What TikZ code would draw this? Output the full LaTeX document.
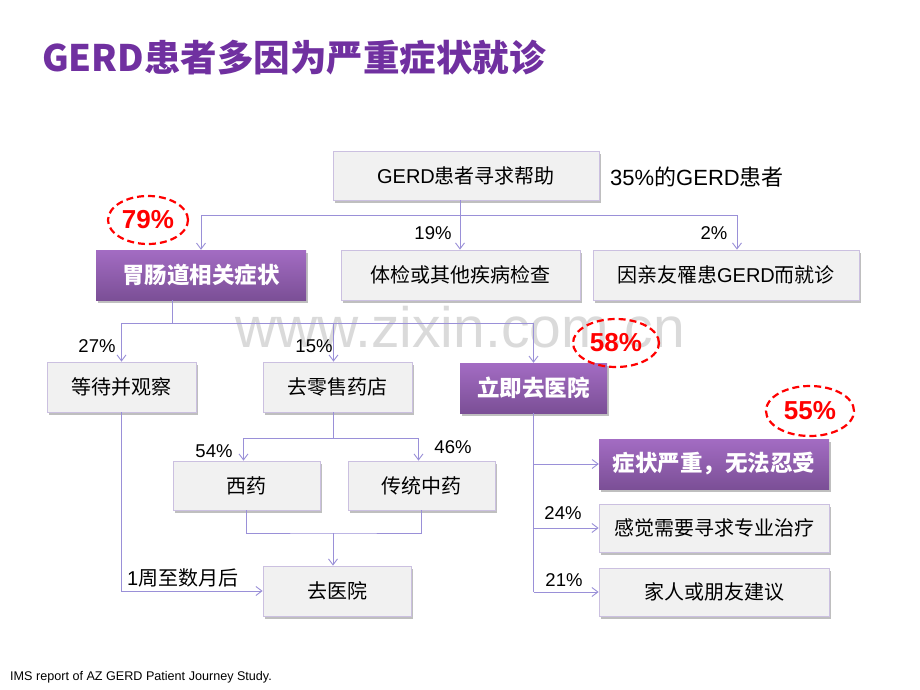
\documentclass[tikz,border=0pt]{standalone}
\usepackage{fontspec}
\setmainfont{Liberation Sans}
\newfontfamily\cjk{Noto Sans CJK SC}
\usetikzlibrary{arrows.meta,shapes.geometric,shadows}
\definecolor{lineC}{HTML}{9A90D8}
\definecolor{boxline}{HTML}{CBC0E0}
\definecolor{boxfill}{HTML}{F1F1F1}
\definecolor{pTop}{HTML}{A36CC3}
\definecolor{pBot}{HTML}{7B4F96}
\definecolor{titleC}{HTML}{7030A0}
\definecolor{wmC}{HTML}{DADADA}
\newcommand{\zh}[1]{{\cjk #1}}
\begin{document}
\begin{tikzpicture}[x=1pt,y=-1pt,
  gbox/.style={draw=boxline, fill=boxfill, line width=0.8pt, inner sep=0pt,
    font=\fontsize{20}{24}\selectfont,
    drop shadow={shadow xshift=1.5pt, shadow yshift=-2.5pt, fill=black, opacity=0.25}},
  pbox/.style={draw=none, top color=pTop, bottom color=pBot, inner sep=0pt, text=white,
    font=\fontsize{22.5}{26}\selectfont\bfseries,
    drop shadow={shadow xshift=1.5pt, shadow yshift=-2.5pt, fill=black, opacity=0.25}},
  conn/.style={draw=lineC, line width=0.9pt},
  arr/.style={conn, -{Straight Barb[length=6pt,width=9pt]}},
  pct/.style={font=\fontsize{18.5}{20}\selectfont, inner sep=0pt},
  bubble/.style={ellipse, draw=red, dashed, dash pattern=on 7pt off 4pt, line width=2.2pt,
    text=red, font=\fontsize{26}{28}\selectfont\bfseries, inner sep=0pt}
]
\useasboundingbox (0,0) rectangle (920,690);
\fill[white] (0,0) rectangle (920,690);
% watermark
\node[text=wmC, font=\fontsize{57}{60}\selectfont, inner sep=0pt] (wm) at (460,327) {www.zixin.com.cn};
% title
\node[anchor=west, text=titleC, inner sep=0pt, font=\cjk\fontsize{36.5}{42}\selectfont\bfseries] (title) at (42,58) {GERD患者多因为严重症状就诊};
% boxes
\node[gbox, minimum width=266pt, minimum height=49pt] (top) at (466,175.5) {GERD\zh{患者寻求帮助}};
\node[anchor=west, font=\fontsize{22}{26}\selectfont, inner sep=0pt] (t35) at (610,177) {35\%\zh{的}GERD\zh{患者}};
\node[pbox, minimum width=210pt, minimum height=50pt] (gi) at (201,275) {\zh{胃肠道相关症状}};
\node[gbox, minimum width=239pt, minimum height=50pt] (tj) at (460.5,275) {\zh{体检或其他疾病检查}};
\node[gbox, minimum width=266pt, minimum height=50pt] (yq) at (726,275) {\zh{因亲友罹患}GERD\zh{而就诊}};
\node[gbox, minimum width=149pt, minimum height=50pt] (dd) at (121.5,387) {\zh{等待并观察}};
\node[gbox, minimum width=149pt, minimum height=50pt] (ls) at (337.5,387) {\zh{去零售药店}};
\node[pbox, minimum width=147pt, minimum height=50pt] (ly) at (533.5,388) {\zh{立即去医院}};
\node[gbox, minimum width=147pt, minimum height=49pt] (xy) at (246.5,485.5) {\zh{西药}};
\node[gbox, minimum width=147pt, minimum height=49pt] (zy) at (421.5,485.5) {\zh{传统中药}};
\node[gbox, minimum width=148pt, minimum height=50pt] (qy) at (337,591) {\zh{去医院}};
\node[pbox, minimum width=230pt, minimum height=50pt] (zz) at (714,464) {\zh{症状严重，无法忍受}};
\node[gbox, minimum width=230pt, minimum height=48pt] (gj) at (714,528) {\zh{感觉需要寻求专业治疗}};
\node[gbox, minimum width=230pt, minimum height=48pt] (jr) at (714,592) {\zh{家人或朋友建议}};
% connectors level 1
\coordinate (j1) at (460,215);
\coordinate (j1r) at (737,215);
\draw[conn] (top.south -| j1) -- (j1);
\draw[arr] (j1) -- (j1 |- tj.north);
\draw[arr] (j1) -| (gi.north);
\draw[conn] (j1) -- (j1r);
\draw[arr] (j1r) -- (j1r |- yq.north);
% level 2
\coordinate (j2) at (172,323);
\draw[conn] (gi.south -| j2) -- (j2);
\draw[arr] (j2) -| (dd.north);
\draw[arr] (j2) -| ([xshift=-4pt]ls.north);
\draw[arr] (j2) -| (ly.north);
% pharmacy
\coordinate (j3) at (333,438);
\draw[conn] (ls.south -| j3) -- (j3);
\draw[arr] (j3) -| ([xshift=-3pt]xy.north);
\draw[arr] (j3) -| ([xshift=-3pt]zy.north);
\coordinate (j4) at (333,533);
\draw[conn] (xy.south) |- (j4) -| (zy.south);
\draw[arr] (j4) -- (j4 |- qy.north);
\draw[arr] (dd.south) |- (qy.west);
% hospital
\coordinate (j5) at (ly.south |- jr.west);
\draw[conn] (ly.south) -- (j5);
\draw[arr] (ly.south |- zz.west) -- (zz.west);
\draw[arr] (ly.south |- gj.west) -- (gj.west);
\draw[arr] (j5) -- (jr.west);
% labels
\node[pct] (p19) at (433,233) {19\%};
\node[pct] (p2) at (714,233) {2\%};
\node[pct] (p27) at (97,346) {27\%};
\node[pct] (p15) at (314,346) {15\%};
\node[pct] (p54) at (214,451) {54\%};
\node[pct] (p46) at (453,447) {46\%};
\node[pct] (p24) at (563,513) {24\%};
\node[pct] (p21) at (564,580) {21\%};
\node[pct, anchor=west, font=\fontsize{20}{22}\selectfont] (w1) at (127,578) {1\zh{周至数月后}};
% bubbles
\node[bubble, minimum width=80pt, minimum height=48pt] (b79) at (148,220) {79\%};
\node[bubble, minimum width=86pt, minimum height=48pt] (b58) at (616,343) {58\%};
\node[bubble, minimum width=88pt, minimum height=50pt] (b55) at (810,411) {55\%};
% footnote
\node[anchor=west, inner sep=0pt, font=\fontsize{12.6}{15}\selectfont] (fn) at (10,677) {IMS report of AZ GERD Patient Journey Study.};
\end{tikzpicture}
\end{document}
